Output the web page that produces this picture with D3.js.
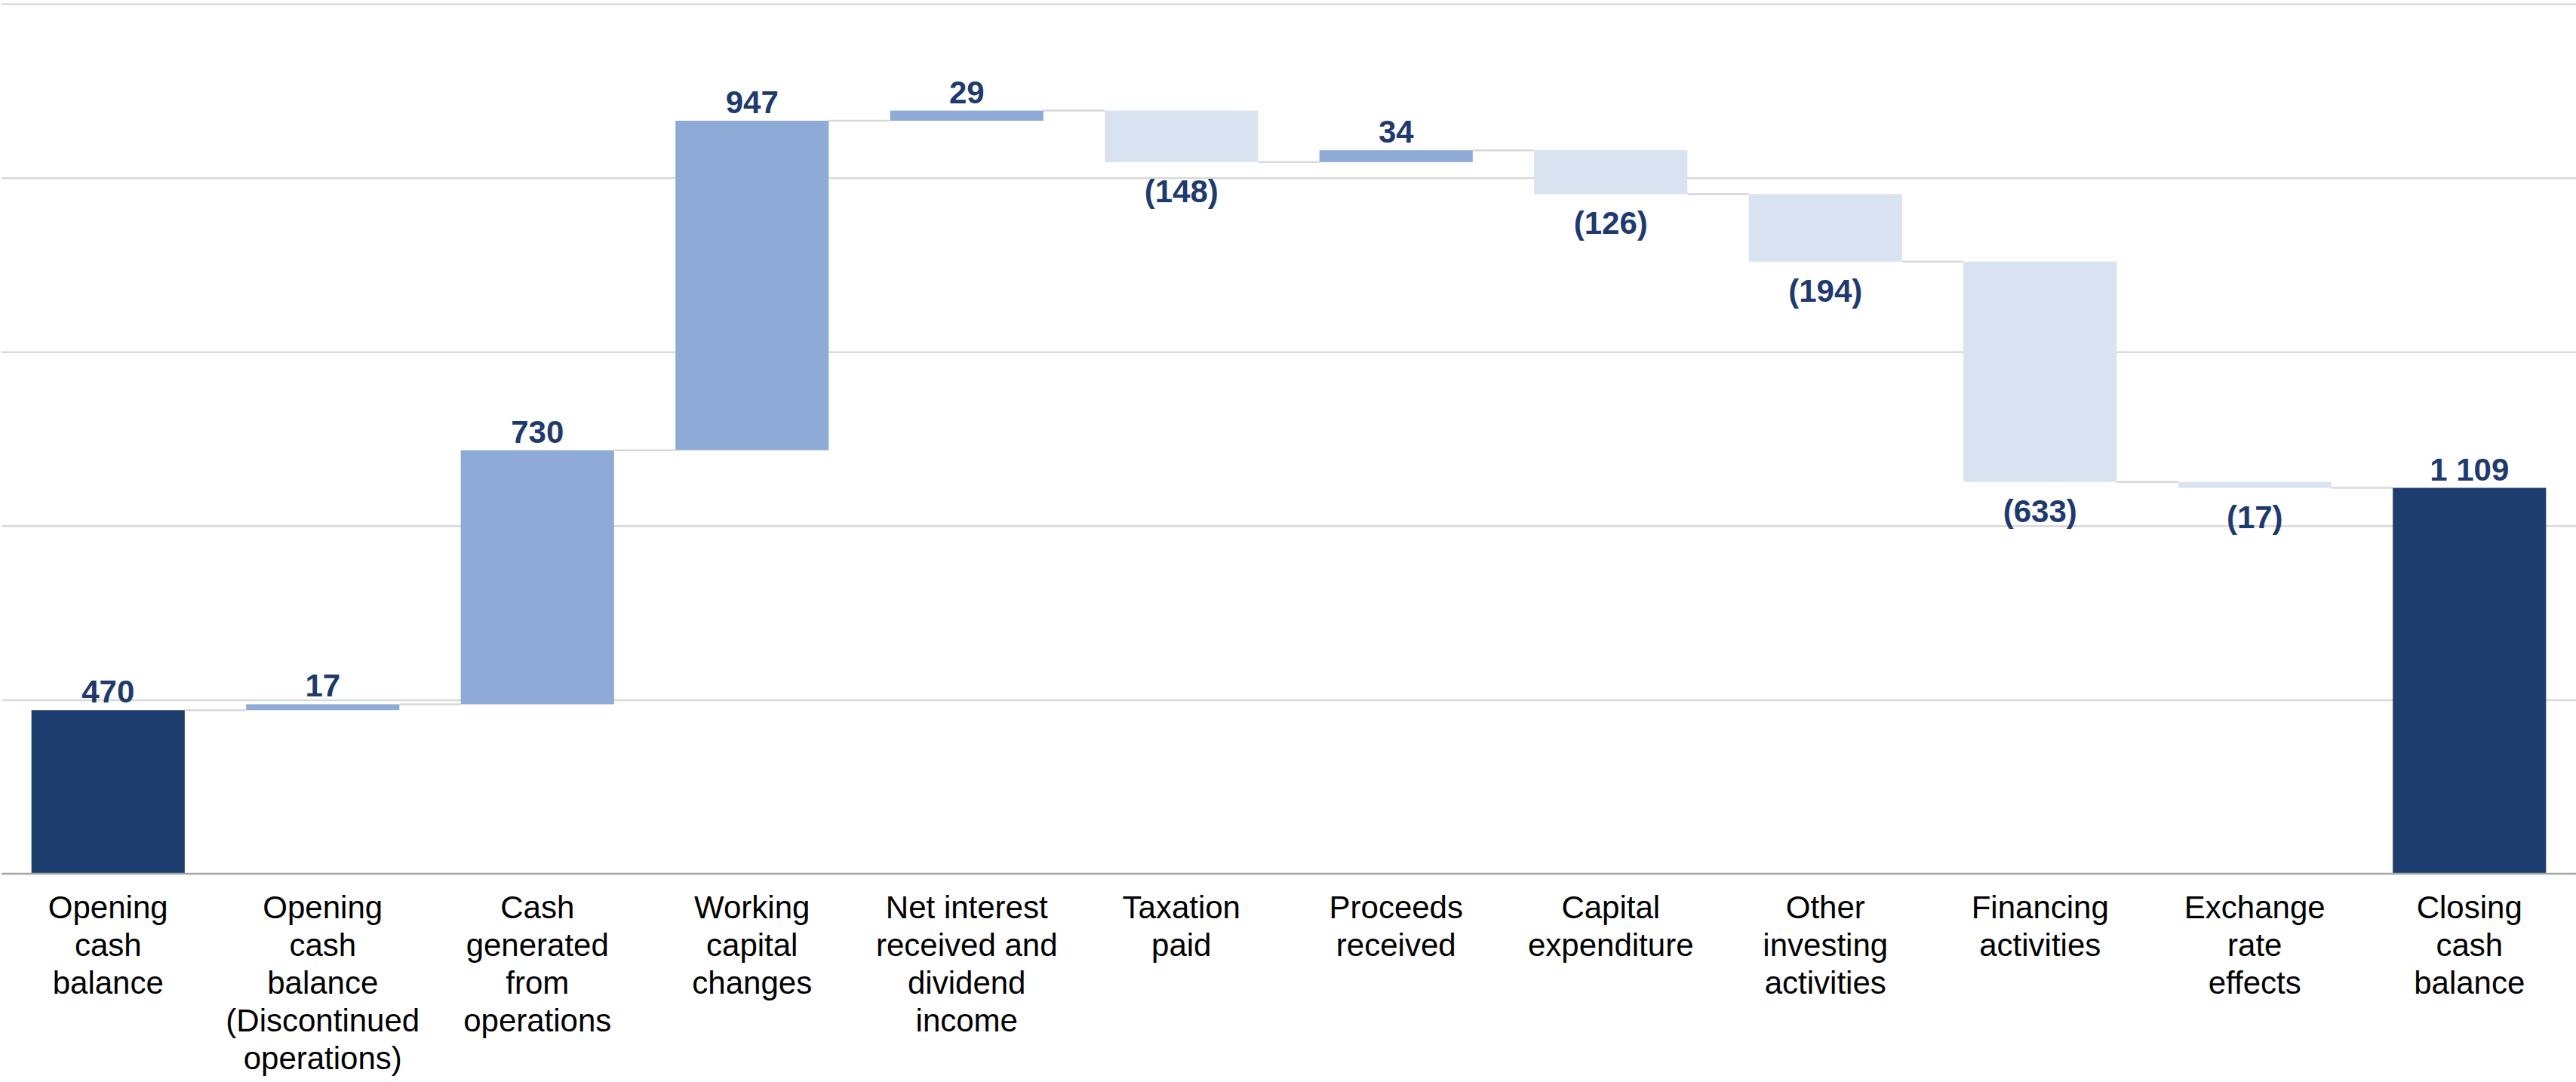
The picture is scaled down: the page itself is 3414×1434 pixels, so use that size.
<!DOCTYPE html>
<html>
<head>
<meta charset="utf-8">
<script src="https://cdn.jsdelivr.net/npm/d3@7"></script>
<style>
  html, body { margin: 0; padding: 0; background: #ffffff; }
  svg { display: block; }
</style>
</head>
<body>
<script>
// ---- Data ----
const categories = [
  "Opening cash balance",
  "Opening cash balance (Discontinued operations)",
  "Cash generated from operations",
  "Working capital changes",
  "Net interest received and dividend income",
  "Taxation paid",
  "Proceeds received",
  "Capital expenditure",
  "Other investing activities",
  "Financing activities",
  "Exchange rate effects",
  "Closing cash balance"
];
const categoryLines = [
  ["Opening", "cash", "balance"],
  ["Opening", "cash", "balance", "(Discontinued", "operations)"],
  ["Cash", "generated", "from", "operations"],
  ["Working", "capital", "changes"],
  ["Net interest", "received and", "dividend", "income"],
  ["Taxation", "paid"],
  ["Proceeds", "received"],
  ["Capital", "expenditure"],
  ["Other", "investing", "activities"],
  ["Financing", "activities"],
  ["Exchange", "rate", "effects"],
  ["Closing", "cash", "balance"]
];
const values = [470, 17, 730, 947, 29, -148, 34, -126, -194, -633, -17, 1109];
const barTypes = ["total", "delta", "delta", "delta", "delta", "delta", "delta", "delta", "delta", "delta", "delta", "total"];
const gridTicks = [0, 500, 1000, 1500, 2000, 2500];

// ---- Layout ----
const W = 3414, H = 1434;
const baseY = 1158, topY = 5;
const colors = { total: "#1c3d6e", up: "#8eaad6", down: "#d9e2f0" };
const labelColor = "#1f3a6e";

const svg = d3.select("body").append("svg").attr("width", W).attr("height", H);

const x = d3.scaleBand().domain(categories).range([1, 3415]).paddingInner(0.286).paddingOuter(0.143);
const y = d3.scaleLinear().domain([0, 2500]).range([baseY, topY]);

// compute waterfall segments
let running = 0;
const bars = values.map((v, i) => {
  let start, end;
  if (barTypes[i] === "total") { start = 0; end = v; running = v; }
  else { start = running; end = running + v; running = end; }
  return { cat: categories[i], v, start, end, type: barTypes[i], i };
});

// gridlines
const grid = svg.append("g").attr("class", "grid")
  .call(d3.axisLeft(y).tickValues(gridTicks.filter(t => t > 0)).tickSize(-W).tickFormat(""))
  .attr("transform", `translate(${W},0)`);
grid.select(".domain").remove();
grid.selectAll(".tick line").attr("x1", 0).attr("x2", -W + 2).attr("stroke", "#d9d9d9").attr("stroke-width", 2.5);

// connectors
svg.append("g").selectAll("line").data(bars.slice(0, -1)).join("line")
  .attr("x1", d => x(d.cat) + x.bandwidth())
  .attr("x2", d => x(categories[d.i + 1]))
  .attr("y1", d => y(d.end))
  .attr("y2", d => y(d.end))
  .attr("stroke", "#d9d9d9").attr("stroke-width", 2.5);

// bars
svg.append("g").selectAll("rect").data(bars).join("rect")
  .attr("x", d => x(d.cat))
  .attr("width", x.bandwidth())
  .attr("y", d => y(Math.max(d.start, d.end)))
  .attr("height", d => Math.abs(y(d.start) - y(d.end)))
  .attr("fill", d => d.type === "total" ? colors.total : (d.v >= 0 ? colors.up : colors.down));

// baseline axis
const xAxis = svg.append("g").attr("transform", `translate(0,${baseY})`)
  .call(d3.axisBottom(x).tickSize(0).tickFormat(""));
xAxis.select(".domain").attr("d", `M2,0H${W}`).attr("stroke", "#a6a6a6").attr("stroke-width", 2.5);

// value labels
const fmt = v => {
  const s = d3.format(",")(Math.abs(v)).replace(/,/g, " ");
  return v < 0 ? `(${s})` : s;
};
svg.append("g").selectAll("text").data(bars).join("text")
  .attr("x", d => x(d.cat) + x.bandwidth() / 2)
  .attr("y", d => d.v >= 0 ? y(Math.max(d.start, d.end)) - 10 : y(Math.min(d.start, d.end)) + 53)
  .attr("text-anchor", "middle")
  .attr("font-family", "'Liberation Sans', Arial, sans-serif")
  .attr("font-weight", "bold")
  .attr("font-size", 42)
  .attr("fill", labelColor)
  .text(d => fmt(d.v));

// category labels
const cl = svg.append("g").selectAll("text").data(categories).join("text")
  .attr("x", d => x(d) + x.bandwidth() / 2)
  .attr("y", 1217)
  .attr("text-anchor", "middle")
  .attr("font-family", "'Liberation Sans', Arial, sans-serif")
  .attr("font-size", 42)
  .attr("fill", "#000000");
cl.selectAll("tspan").data((d, i) => categoryLines[i]).join("tspan")
  .attr("x", function() { return d3.select(this.parentNode).attr("x"); })
  .attr("dy", (d, j) => j === 0 ? 0 : 50)
  .text(d => d);
</script>
</body>
</html>
